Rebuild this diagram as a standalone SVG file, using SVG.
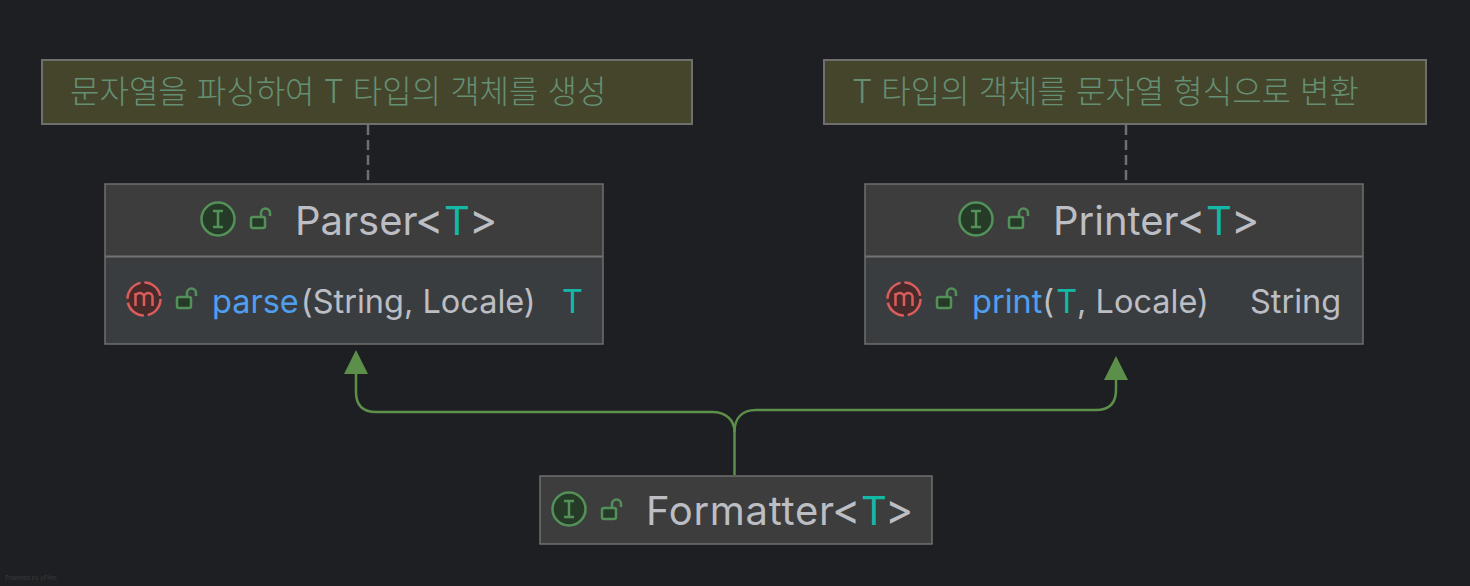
<svg xmlns="http://www.w3.org/2000/svg" width="1470" height="586" viewBox="0 0 1470 586">
<style>
text{font-family:Inter,"Noto Sans","Noto Sans CJK KR",sans-serif}
.note{fill:#45452c;stroke:#6f6f6f;stroke-width:2}
.nt{font-size:32px;fill:#648f73;font-family:Inter,"Noto Sans CJK KR",sans-serif;font-weight:300}
.hd{fill:#3d3d3d}
.bd{fill:#3a3d40}
.div{stroke:#747474;stroke-width:2}
.box{fill:none;stroke:#6f6f6f;stroke-width:1.500}
.title{font-size:40px;fill:#bcbec4}
.br{font-size:43px}
.mem{font-size:32.500px;fill:#bcbec4}
.t{fill:#14b8a6}
.fn{fill:#4f9ff0}
.ic{fill:#263a28;stroke:#549159;stroke-width:2.500}
.im{fill:#472b2b;stroke:#db5c5c;stroke-width:2.500}
.g{fill:none;stroke:#549159;stroke-width:2.500}
.lock{fill:#263a28;stroke:#549159;stroke-width:2.500}
.dash{stroke:#6e6f73;stroke-width:2.500;stroke-dasharray:10 5;fill:none}
.ed{fill:none;stroke:#5c8f4a;stroke-width:2.500}
.ah{fill:#5c8f4a}
</style>
<defs>
<g id="lock"><rect class="lock" x="-9" y="-2" width="14" height="11" rx="2"/><path class="g" d="M1-2V-6a4.500 4.500 0 0 1 9 0V-3"/></g>
<g id="iI"><circle class="ic" cx="0" cy="0" r="16.500"/><path class="g" d="M-5-8H5M-5 8H5M0-8V8"/></g>
<g id="iM"><circle class="im" cx="0" cy="0" r="16.500" stroke-dasharray="21.900 4"/><path d="M-8.500 7V-6M-8.500-2a4.250 4 0 0 1 8.500 0V7M0-2a4.250 4 0 0 1 8.500 0V7" fill="none" stroke="#db5c5c" stroke-width="2.500"/></g>
</defs>
<rect width="1470" height="586" fill="#1e1f22"/>
<g id="connectors">
<path class="dash" d="M368 125V183"/>
<path class="dash" d="M1126 125V183"/>
<path class="ed" d="M734.500 475V432C734.500 420 726 412 712 412H376Q356 412 356 392V372"/>
<path class="ed" d="M734.500 432C734.500 418 742 410 756 410H1096Q1116 410 1116 390V378"/>
<path class="ah" d="M356 350L368 374H344Z"/>
<path class="ah" d="M1116 356L1128 380H1104Z"/>
</g>
<g id="note-parser">
<rect class="note" x="42" y="60" width="650" height="64"/>
<text class="nt" x="70" y="103">문자열을 파싱하여 T 타입의 객체를 생성</text>
</g>
<g id="note-printer">
<rect class="note" x="824" y="60" width="602" height="64"/>
<text class="nt" x="852" y="103">T 타입의 객체를 문자열 형식으로 변환</text>
</g>
<g id="parser">
<rect class="hd" x="105" y="184" width="498" height="72"/>
<rect class="bd" x="105" y="257" width="498" height="87"/>
<path class="div" d="M105 256.500H603"/>
<rect class="box" x="105" y="184" width="498" height="160"/>
<use href="#iI" x="218" y="219"/>
<use href="#lock" x="260" y="219"/>
<text class="title" x="295" y="235">Parser<tspan class="br" x="415">&lt;</tspan><tspan class="t" x="444">T</tspan><tspan class="br" x="469">&gt;</tspan></text>
<use href="#iM" x="144" y="299"/>
<use href="#lock" x="186" y="299"/>
<text class="mem" x="212" y="313"><tspan class="fn">parse</tspan><tspan dx="2">(String, Locale)</tspan></text>
<text class="mem t" x="562" y="313">T</text>
</g>
<g id="printer">
<rect class="hd" x="865" y="184" width="498" height="72"/>
<rect class="bd" x="865" y="257" width="498" height="87"/>
<path class="div" d="M865 256.500H1363"/>
<rect class="box" x="865" y="184" width="498" height="160"/>
<use href="#iI" x="976" y="219"/>
<use href="#lock" x="1018" y="219"/>
<text class="title" x="1053" y="235">Printer<tspan class="br" x="1177">&lt;</tspan><tspan class="t" x="1206">T</tspan><tspan class="br" x="1231">&gt;</tspan></text>
<use href="#iM" x="904" y="299"/>
<use href="#lock" x="946" y="299"/>
<text class="mem" x="972" y="313"><tspan class="fn">print</tspan>(<tspan class="t" dx="2">T</tspan><tspan dx="1">, Locale)</tspan></text>
<text class="mem" x="1250" y="313">String</text>
</g>
<g id="formatter">
<rect class="hd" x="540" y="476" width="392" height="68"/>
<rect class="box" x="540" y="476" width="392" height="68"/>
<use href="#iI" x="569" y="509"/>
<use href="#lock" x="611" y="510"/>
<text class="title" x="646" y="525" letter-spacing="0.700">Formatter<tspan class="br" x="832">&lt;</tspan><tspan class="t" x="861">T</tspan><tspan class="br" x="885">&gt;</tspan></text>
</g>
<text x="5" y="580" font-size="6" fill="#3a3b3e">Powered by yFiles</text>
</svg>
